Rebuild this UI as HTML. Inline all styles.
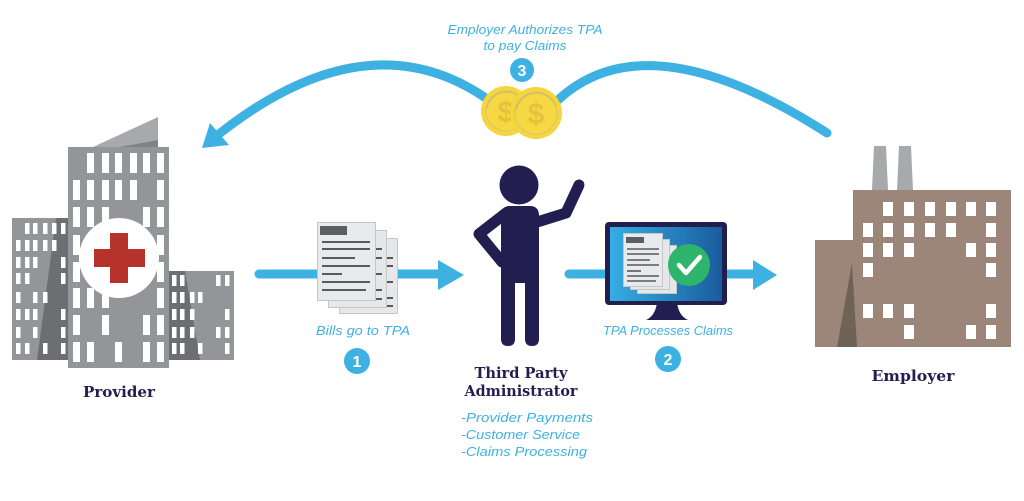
<!DOCTYPE html>
<html><head><meta charset="utf-8"><style>
html,body{margin:0;padding:0;background:#fff;width:1024px;height:501px;overflow:hidden}
svg{display:block}
.lab{font-family:"Liberation Sans","DejaVu Sans",sans-serif;font-style:italic;font-size:13px;fill:#3db1e2}
.ttl{font-family:"DejaVu Serif","Liberation Serif",serif;font-weight:bold;font-size:15px;fill:#221e4f}
.num{font-family:"Liberation Sans","DejaVu Sans",sans-serif;font-weight:bold;font-size:16px;fill:#fff}
</style></head><body>
<svg width="1024" height="501" viewBox="0 0 1024 501" xmlns="http://www.w3.org/2000/svg">
<defs>
<linearGradient id="scr" x1="0" y1="0" x2="1" y2="0">
<stop offset="0" stop-color="#35aee2"/><stop offset="1" stop-color="#1a5c9e"/>
</linearGradient>
</defs>

<!-- top arcs -->
<path d="M490 101 Q370 15 219 134" fill="none" stroke="#3db1e2" stroke-width="9" stroke-linecap="round"/>
<polygon points="202,148 210,123 229,145" fill="#3db1e2"/>
<path d="M558 100 Q647 17.5 827 133" fill="none" stroke="#3db1e2" stroke-width="9" stroke-linecap="round"/>

<!-- coins -->
<circle cx="506" cy="111" r="25" fill="#f5d63a"/>
<circle cx="506" cy="111" r="20" fill="#f6d843" stroke="#d9c27a" stroke-width="1"/>
<path d="M487 108 A20 20 0 0 1 525 104" fill="none" stroke="#c9b36d" stroke-width="1.5" opacity="0.7"/>
<text x="506" y="122" text-anchor="middle" font-family="Liberation Sans,sans-serif" font-weight="bold" font-size="30" fill="#e6c13c">$</text>
<circle cx="536" cy="113" r="26" fill="#f5d63a"/>
<circle cx="536" cy="113" r="21" fill="#f6d843" stroke="#d9c27a" stroke-width="1"/>
<path d="M516 110 A21 21 0 0 1 556 106" fill="none" stroke="#c9b36d" stroke-width="1.5" opacity="0.7"/>
<text x="536" y="124" text-anchor="middle" font-family="Liberation Sans,sans-serif" font-weight="bold" font-size="30" fill="#e6c13c">$</text>

<!-- step 3 -->
<text class="lab" x="525" y="34" text-anchor="middle" textLength="155" lengthAdjust="spacingAndGlyphs">Employer Authorizes TPA</text>
<text class="lab" x="525" y="50" text-anchor="middle" textLength="83" lengthAdjust="spacingAndGlyphs">to pay Claims</text>
<circle cx="522" cy="70" r="12" fill="#3db1e2"/>
<text class="num" x="522" y="76" text-anchor="middle">3</text>

<!-- Provider building -->
<rect x="12" y="218" width="56" height="142" fill="#939598"/>
<polygon points="56,218 68,218 68,360 37,360" fill="#6d6e71"/>
<rect x="169" y="271" width="65" height="89" fill="#939598"/>
<polygon points="169,271 185,271 200,360 169,360" fill="#6d6e71"/>
<polygon points="93,147 158,117 158,147" fill="#a7a9ac"/>
<polygon points="120,147 158,140 158,147" fill="#808285"/>
<rect x="68" y="147" width="101" height="221" fill="#939598"/>
<g fill="#fff">
<rect x="87" y="153" width="7" height="20"/><rect x="102" y="153" width="7" height="20"/><rect x="115" y="153" width="7" height="20"/><rect x="130" y="153" width="7" height="20"/><rect x="143" y="153" width="7" height="20"/><rect x="157" y="153" width="7" height="20"/>
<rect x="73" y="180" width="7" height="20"/><rect x="87" y="180" width="7" height="20"/><rect x="102" y="180" width="7" height="20"/><rect x="115" y="180" width="7" height="20"/><rect x="130" y="180" width="7" height="20"/><rect x="157" y="180" width="7" height="20"/>
<rect x="73" y="207" width="7" height="20"/><rect x="87" y="207" width="7" height="20"/><rect x="102" y="207" width="7" height="20"/><rect x="143" y="207" width="7" height="20"/><rect x="157" y="207" width="7" height="20"/>
<rect x="73" y="235" width="7" height="20"/><rect x="157" y="235" width="7" height="20"/>
<rect x="73" y="262" width="7" height="20"/><rect x="157" y="262" width="7" height="20"/>
<rect x="73" y="288" width="7" height="20"/><rect x="87" y="288" width="7" height="20"/><rect x="102" y="288" width="7" height="20"/><rect x="157" y="288" width="7" height="20"/>
<rect x="73" y="315" width="7" height="20"/><rect x="102" y="315" width="7" height="20"/><rect x="143" y="315" width="7" height="20"/><rect x="157" y="315" width="7" height="20"/>
<rect x="73" y="342" width="7" height="20"/><rect x="87" y="342" width="7" height="20"/><rect x="115" y="342" width="7" height="20"/><rect x="143" y="342" width="7" height="20"/><rect x="157" y="342" width="7" height="20"/>
<rect x="25" y="223" width="4.5" height="11"/><rect x="33" y="223" width="4.5" height="11"/><rect x="43" y="223" width="4.5" height="11"/><rect x="52" y="223" width="4.5" height="11"/><rect x="61" y="223" width="4.5" height="11"/>
<rect x="16" y="240" width="4.5" height="11"/><rect x="25" y="240" width="4.5" height="11"/><rect x="33" y="240" width="4.5" height="11"/><rect x="43" y="240" width="4.5" height="11"/><rect x="52" y="240" width="4.5" height="11"/>
<rect x="16" y="257" width="4.5" height="11"/><rect x="25" y="257" width="4.5" height="11"/><rect x="33" y="257" width="4.5" height="11"/><rect x="61" y="257" width="4.5" height="11"/>
<rect x="16" y="273" width="4.5" height="11"/><rect x="25" y="273" width="4.5" height="11"/><rect x="61" y="273" width="4.5" height="11"/>
<rect x="16" y="292" width="4.5" height="11"/><rect x="33" y="292" width="4.5" height="11"/><rect x="43" y="292" width="4.5" height="11"/>
<rect x="16" y="309" width="4.5" height="11"/><rect x="25" y="309" width="4.5" height="11"/><rect x="33" y="309" width="4.5" height="11"/><rect x="61" y="309" width="4.5" height="11"/>
<rect x="16" y="327" width="4.5" height="11"/><rect x="33" y="327" width="4.5" height="11"/><rect x="61" y="327" width="4.5" height="11"/>
<rect x="16" y="343" width="4.5" height="11"/><rect x="25" y="343" width="4.5" height="11"/><rect x="43" y="343" width="4.5" height="11"/><rect x="61" y="343" width="4.5" height="11"/>
<rect x="172" y="275" width="4.5" height="11"/><rect x="180" y="275" width="4.5" height="11"/><rect x="216" y="275" width="4.5" height="11"/><rect x="225" y="275" width="4.5" height="11"/>
<rect x="172" y="292" width="4.5" height="11"/><rect x="180" y="292" width="4.5" height="11"/><rect x="190" y="292" width="4.5" height="11"/><rect x="198" y="292" width="4.5" height="11"/>
<rect x="172" y="309" width="4.5" height="11"/><rect x="180" y="309" width="4.5" height="11"/><rect x="190" y="309" width="4.5" height="11"/><rect x="225" y="309" width="4.5" height="11"/>
<rect x="172" y="327" width="4.5" height="11"/><rect x="180" y="327" width="4.5" height="11"/><rect x="190" y="327" width="4.5" height="11"/><rect x="216" y="327" width="4.5" height="11"/><rect x="225" y="327" width="4.5" height="11"/>
<rect x="172" y="343" width="4.5" height="11"/><rect x="180" y="343" width="4.5" height="11"/><rect x="198" y="343" width="4.5" height="11"/><rect x="225" y="343" width="4.5" height="11"/>
</g>
<circle cx="119" cy="258" r="40" fill="#fff"/>
<rect x="94" y="249" width="51" height="18" fill="#b5332a"/>
<rect x="110" y="233" width="18" height="50" fill="#b5332a"/>
<text class="ttl" x="119" y="397" text-anchor="middle" textLength="72" lengthAdjust="spacingAndGlyphs">Provider</text>

<!-- arrow 1 + docs -->
<line x1="259" y1="274" x2="442" y2="274" stroke="#3db1e2" stroke-width="9" stroke-linecap="round"/>
<polygon points="438,260 464,275 438,290" fill="#3db1e2"/>
<g stroke="#c5c6c8" stroke-width="1">
<rect x="339.5" y="238.5" width="58" height="75" fill="#e6e7e8"/>
<g stroke="#58595b" stroke-width="2"><line x1="384" y1="258" x2="393" y2="258"/><line x1="384" y1="266" x2="393" y2="266"/><line x1="384" y1="282" x2="393" y2="282"/><line x1="384" y1="298" x2="393" y2="298"/><line x1="345" y1="306" x2="393" y2="306"/></g>
<rect x="328.5" y="230.5" width="58" height="77" fill="#e6e7e8"/>
<g stroke="#58595b" stroke-width="2"><line x1="375" y1="249" x2="382" y2="249"/><line x1="375" y1="258" x2="382" y2="258"/><line x1="375" y1="274" x2="382" y2="274"/><line x1="375" y1="290" x2="382" y2="290"/><line x1="334" y1="299" x2="382" y2="299"/></g>
<rect x="317.5" y="222.5" width="58" height="78" fill="#e9eaeb"/>
</g>
<rect x="320" y="226" width="27" height="9" fill="#5d5e60"/>
<g stroke="#58595b" stroke-width="2">
<line x1="322" y1="242" x2="370" y2="242"/><line x1="322" y1="249" x2="370" y2="249"/><line x1="322" y1="258" x2="355" y2="258"/><line x1="322" y1="266" x2="370" y2="266"/><line x1="322" y1="274" x2="342" y2="274"/><line x1="322" y1="282" x2="370" y2="282"/><line x1="322" y1="290" x2="366" y2="290"/>
</g>
<text class="lab" x="363" y="335" text-anchor="middle" textLength="94" lengthAdjust="spacingAndGlyphs">Bills go to TPA</text>
<circle cx="357" cy="361" r="13" fill="#3db1e2"/>
<text class="num" x="357" y="367" text-anchor="middle">1</text>

<!-- person -->
<g fill="#221e4f">
<circle cx="519" cy="185" r="19.5"/>
<path d="M510 206 L530 206 Q539 206 539 216 L539 283 L501 283 L501 216 Q501 206 510 206 Z"/>
<path d="M501 278 L515 278 L515 339 Q515 346 508 346 Q501 346 501 339 Z"/>
<path d="M525 278 L539 278 L539 339 Q539 346 532 346 Q525 346 525 339 Z"/>
</g>
<polyline points="506,213 479,234 502,262" fill="none" stroke="#221e4f" stroke-width="11" stroke-linejoin="round" stroke-linecap="round"/>
<polyline points="534,223 566,213 579,185" fill="none" stroke="#221e4f" stroke-width="11" stroke-linejoin="round" stroke-linecap="round"/>
<text class="ttl" x="521" y="378" text-anchor="middle" textLength="93" lengthAdjust="spacingAndGlyphs">Third Party</text>
<text class="ttl" x="521" y="396" text-anchor="middle" textLength="113" lengthAdjust="spacingAndGlyphs">Administrator</text>
<text class="lab" x="461" y="422" textLength="132" lengthAdjust="spacingAndGlyphs">-Provider Payments</text>
<text class="lab" x="461" y="439" textLength="119" lengthAdjust="spacingAndGlyphs">-Customer Service</text>
<text class="lab" x="461" y="456" textLength="126" lengthAdjust="spacingAndGlyphs">-Claims Processing</text>

<!-- arrow 2 + monitor -->
<line x1="569" y1="274" x2="610" y2="274" stroke="#3db1e2" stroke-width="9" stroke-linecap="round"/>
<line x1="720" y1="274" x2="756" y2="274" stroke="#3db1e2" stroke-width="9"/>
<polygon points="753,260 777,275 753,290" fill="#3db1e2"/>
<path d="M657 303 L677 303 Q679 316 688 320 L646 320 Q655 316 657 303 Z" fill="#221e4f"/>
<rect x="605" y="222" width="122" height="83" rx="4" fill="#221e4f"/>
<rect x="610" y="227" width="112" height="74" fill="url(#scr)"/>
<g stroke="#c5c6c8" stroke-width="1">
<rect x="637.5" y="245.5" width="39" height="48" fill="#e6e7e8"/>
<rect x="630.5" y="239.5" width="39" height="50" fill="#e6e7e8"/>
<rect x="623.5" y="233.5" width="39" height="53" fill="#e9eaeb"/>
</g>
<rect x="626" y="237" width="18" height="6" fill="#5d5e60"/>
<g stroke="#58595b" stroke-width="1.6">
<line x1="627" y1="249" x2="659" y2="249"/><line x1="627" y1="254" x2="659" y2="254"/><line x1="627" y1="260" x2="650" y2="260"/><line x1="627" y1="265" x2="659" y2="265"/><line x1="627" y1="271" x2="641" y2="271"/><line x1="627" y1="276" x2="659" y2="276"/><line x1="627" y1="281" x2="656" y2="281"/>
</g>
<circle cx="689" cy="265" r="21" fill="#2fb46e"/>
<polyline points="679,265 686,273 700,257" fill="none" stroke="#fff" stroke-width="4.5" stroke-linecap="round" stroke-linejoin="round"/>
<text class="lab" x="668" y="335" text-anchor="middle" textLength="130" lengthAdjust="spacingAndGlyphs">TPA Processes Claims</text>
<circle cx="668" cy="359" r="13" fill="#3db1e2"/>
<text class="num" x="668" y="365" text-anchor="middle">2</text>

<!-- Employer factory -->
<polygon points="872,190 874,146 886,146 888,190" fill="#a7a9ac"/>
<polygon points="897,190 899,146 911,146 913,190" fill="#a7a9ac"/>
<rect x="815" y="240" width="40" height="107" fill="#9c8579"/>
<rect x="853" y="190" width="158" height="157" fill="#9c8579"/>
<polygon points="837,347 852,263 857,347" fill="#6f6357"/>
<g fill="#fff">
<rect x="883" y="202" width="10" height="14"/><rect x="904" y="202" width="10" height="14"/><rect x="925" y="202" width="10" height="14"/><rect x="946" y="202" width="10" height="14"/><rect x="966" y="202" width="10" height="14"/><rect x="986" y="202" width="10" height="14"/>
<rect x="863" y="223" width="10" height="14"/><rect x="883" y="223" width="10" height="14"/><rect x="904" y="223" width="10" height="14"/><rect x="925" y="223" width="10" height="14"/><rect x="946" y="223" width="10" height="14"/><rect x="986" y="223" width="10" height="14"/>
<rect x="863" y="243" width="10" height="14"/><rect x="883" y="243" width="10" height="14"/><rect x="904" y="243" width="10" height="14"/><rect x="966" y="243" width="10" height="14"/><rect x="986" y="243" width="10" height="14"/>
<rect x="863" y="263" width="10" height="14"/><rect x="986" y="263" width="10" height="14"/>
<rect x="863" y="304" width="10" height="14"/><rect x="883" y="304" width="10" height="14"/><rect x="904" y="304" width="10" height="14"/><rect x="986" y="304" width="10" height="14"/>
<rect x="904" y="325" width="10" height="14"/><rect x="966" y="325" width="10" height="14"/><rect x="986" y="325" width="10" height="14"/>
</g>
<text class="ttl" x="913" y="381" text-anchor="middle" textLength="83" lengthAdjust="spacingAndGlyphs">Employer</text>
</svg>
</body></html>
